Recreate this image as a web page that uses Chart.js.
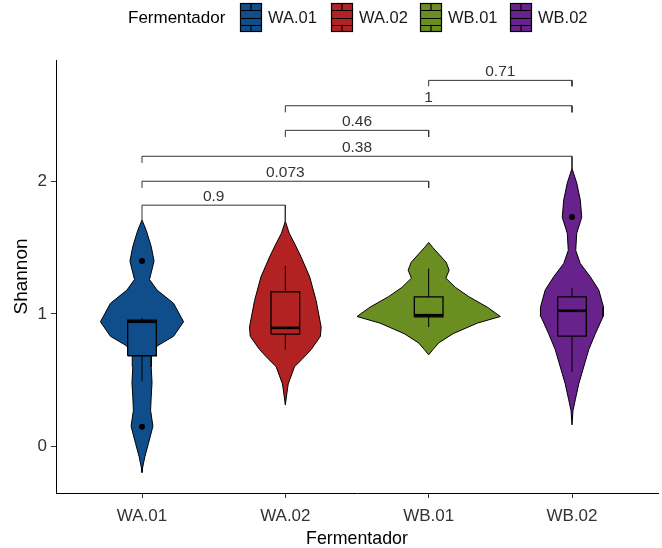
<!DOCTYPE html>
<html>
<head>
<meta charset="utf-8">
<script src="https://cdn.jsdelivr.net/npm/chart.js@4"></script>
<style>
  body { margin: 0; background: #fff; }
</style>
</head>
<body>
<canvas id="chart" width="662" height="548"></canvas>
<script>
const groups = ['WA.01', 'WA.02', 'WB.01', 'WB.02'];
const fillColors = ['#104E8B', '#B22222', '#6B8E23', '#68228B'];

// violin outlines: Shannon level and half width (in category units)
const violinY_WA01 = [1.71, 1.63, 1.51, 1.40, 1.31, 1.26, 1.18, 1.08, 0.94, 0.83, 0.76, 0.70, 0.60, 0.48, 0.37, 0.27, 0.15, 0.02, -0.08, -0.16, -0.20];
const violinW_WA01 = [0, 0.03, 0.064, 0.084, 0.064, 0.052, 0.105, 0.22, 0.29, 0.22, 0.11, 0.068, 0.064, 0.07, 0.064, 0.06, 0.076, 0.045, 0.02, 0.005, 0];
const violinY_WA02 = [1.70, 1.61, 1.52, 1.43, 1.28, 1.10, 0.90, 0.83, 0.73, 0.66, 0.60, 0.47, 0.37, 0.31];
const violinW_WA02 = [0, 0.027, 0.07, 0.11, 0.17, 0.215, 0.25, 0.245, 0.18, 0.12, 0.064, 0.02, 0.007, 0];
const violinY_WB01 = [1.54, 1.50, 1.46, 1.39, 1.33, 1.27, 1.20, 1.13, 1.05, 0.98, 0.93, 0.85, 0.78, 0.73, 0.69];
const violinW_WB01 = [0, 0.03, 0.064, 0.122, 0.143, 0.12, 0.187, 0.28, 0.41, 0.50, 0.34, 0.17, 0.07, 0.03, 0];
const violinY_WB02 = [2.10, 1.99, 1.86, 1.73, 1.61, 1.48, 1.38, 1.28, 1.18, 1.05, 0.98, 0.85, 0.73, 0.60, 0.47, 0.35, 0.27, 0.16];
const violinW_WB02 = [0, 0.033, 0.058, 0.068, 0.033, 0.026, 0.058, 0.128, 0.187, 0.22, 0.217, 0.163, 0.117, 0.082, 0.047, 0.023, 0.007, 0];

const violinY = [violinY_WA01, violinY_WA02, violinY_WB01, violinY_WB02];
const violinW = [violinW_WA01, violinW_WA02, violinW_WB01, violinW_WB02];

// boxplot stats
const lowerWhisker = [0.49, 0.73, 0.90, 0.56];
const q1 = [0.683, 0.847, 0.977, 0.831];
const median = [0.94, 0.894, 0.99, 1.023];
const q3 = [0.952, 1.167, 1.128, 1.128];
const upperWhisker = [0.97, 1.363, 1.343, 1.197];
const outliers = [[1.40, 0.146], [], [], [1.733]];

// significance brackets
const bracketFrom = [1, 1, 1, 2, 2, 3];
const bracketTo = [2, 3, 4, 3, 4, 4];
const bracketY = [1.822, 2.003, 2.192, 2.388, 2.574, 2.766];
const bracketTipL = [0.13, 0.05, 0.05, 0.05, 0.05, 0.045];
const bracketTipR = [0.13, 0.05, 0.10, 0.05, 0.05, 0.045];
const bracketLabels = ['0.9', '0.073', '0.38', '0.46', '1', '0.71'];

const yTicks = [0, 1, 2];
const FONT = "'Liberation Sans', Arial, sans-serif";
const BOX_HALF = 0.1;

const datasets = [];

groups.forEach((g, i) => {
    const cx = i + 1;
    const ys = violinY[i], ws = violinW[i];
    const pts = [];
    for (let k = 0; k < ys.length; k++) pts.push({x: cx + ws[k], y: ys[k]});
    for (let k = ys.length - 1; k >= 0; k--) pts.push({x: cx - ws[k], y: ys[k]});
    datasets.push({
        data: pts, fill: 'shape', backgroundColor: fillColors[i],
        borderColor: '#000', borderWidth: 1, pointRadius: 0, tension: 0, order: 10
    });
    datasets.push({
        data: [{x: cx, y: lowerWhisker[i]}, {x: cx, y: upperWhisker[i]}],
        borderColor: '#000', borderWidth: 1, pointRadius: 0, fill: false, order: 8
    });
    datasets.push({
        data: [
            {x: cx - BOX_HALF, y: q1[i]}, {x: cx + BOX_HALF, y: q1[i]},
            {x: cx + BOX_HALF, y: q3[i]}, {x: cx - BOX_HALF, y: q3[i]},
            {x: cx - BOX_HALF, y: q1[i]}
        ],
        fill: 'shape', backgroundColor: fillColors[i],
        borderColor: '#000', borderWidth: 1.3, pointRadius: 0, order: 6
    });
    datasets.push({
        data: [{x: cx - BOX_HALF, y: median[i]}, {x: cx + BOX_HALF, y: median[i]}],
        borderColor: '#000', borderWidth: 2.6, pointRadius: 0, fill: false, order: 4
    });
    if (outliers[i].length) {
        datasets.push({
            data: outliers[i].map(v => ({x: cx, y: v})),
            showLine: false, pointRadius: 3, pointBackgroundColor: '#000',
            pointBorderColor: '#000', pointBorderWidth: 0, order: 2
        });
    }
});

bracketY.forEach((y, b) => {
    datasets.push({
        data: [
            {x: bracketFrom[b], y: y - bracketTipL[b]}, {x: bracketFrom[b], y: y},
            {x: bracketTo[b], y: y}, {x: bracketTo[b], y: y - bracketTipR[b]}
        ],
        borderColor: '#333', borderWidth: 1, pointRadius: 0, fill: false, tension: 0, order: 1
    });
});

const bracketText = {
    id: 'bracketText',
    afterDatasetsDraw(chart) {
        const ctx = chart.ctx, xs = chart.scales.x, ys = chart.scales.y;
        ctx.save();
        ctx.font = '15.5px ' + FONT;
        ctx.fillStyle = '#333';
        ctx.textAlign = 'center';
        ctx.textBaseline = 'alphabetic';
        bracketLabels.forEach((t, b) => {
            const x = xs.getPixelForValue((bracketFrom[b] + bracketTo[b]) / 2);
            const y = ys.getPixelForValue(bracketY[b]) - 4;
            ctx.fillText(t, x, y);
        });
        ctx.restore();
    }
};

const topLegend = {
    id: 'topLegend',
    afterDraw(chart) {
        const ctx = chart.ctx;
        ctx.save();
        ctx.font = '17px ' + FONT;
        ctx.fillStyle = '#000';
        ctx.textBaseline = 'middle';
        ctx.textAlign = 'left';
        ctx.fillText('Fermentador', 128, 18);
        const keyX = [240, 331, 420, 510];
        const kw = 22, kh = 29, ky = 3;
        groups.forEach((g, i) => {
            const x = keyX[i];
            ctx.fillStyle = fillColors[i];
            ctx.fillRect(x, ky, kw, kh);
            ctx.strokeStyle = '#000';
            ctx.lineWidth = 1.2;
            ctx.strokeRect(x + 0.5, ky + 0.5, kw - 1, kh - 1);
            ctx.beginPath();
            const y1 = ky + kh * 0.25, y2 = ky + kh * 0.5, y3 = ky + kh * 0.75;
            [y1, y2, y3].forEach(yy => {
                ctx.moveTo(x, Math.round(yy) + 0.5);
                ctx.lineTo(x + kw, Math.round(yy) + 0.5);
            });
            ctx.moveTo(x + kw / 2, ky);
            ctx.lineTo(x + kw / 2, y1);
            ctx.moveTo(x + kw / 2, y3);
            ctx.lineTo(x + kw / 2, ky + kh);
            ctx.stroke();
            ctx.fillStyle = '#1a1a1a';
            ctx.font = '16.5px ' + FONT;
            ctx.fillText(g, x + kw + 6, 18);
        });
        ctx.restore();
    }
};

const ctx = document.getElementById('chart').getContext('2d');
new Chart(ctx, {
    type: 'line',
    data: {datasets},
    options: {
        responsive: false,
        animation: false,
        events: [],
        layout: {padding: {top: 60, right: 4, left: 0, bottom: 0}},
        plugins: {legend: {display: false}, tooltip: {enabled: false}},
        scales: {
            x: {
                type: 'linear', min: 0.4, max: 4.6,
                afterBuildTicks: s => { s.ticks = groups.map((g, i) => ({value: i + 1})); },
                afterFit: s => { s.height = 55; },
                ticks: {
                    callback: v => groups[v - 1],
                    color: '#333', font: {size: 17, family: FONT}, padding: 8
                },
                grid: {drawOnChartArea: false, drawTicks: true, tickLength: 5, color: '#333'},
                border: {display: true, color: '#000', width: 1},
                title: {display: true, text: 'Fermentador', color: '#000', font: {size: 17.8, family: FONT}, padding: {top: 0, bottom: -2}}
            },
            y: {
                type: 'linear', min: -0.355, max: 2.92,
                afterBuildTicks: s => { s.ticks = yTicks.map(v => ({value: v})); },
                afterFit: s => { s.width = 56; },
                ticks: {color: '#333', font: {size: 17, family: FONT}, padding: 4},
                grid: {drawOnChartArea: false, drawTicks: true, tickLength: 5, color: '#333'},
                border: {display: true, color: '#000', width: 1},
                title: {display: true, text: 'Shannon', color: '#000', font: {size: 19, family: FONT}, padding: {top: 10, bottom: 0}}
            }
        }
    },
    plugins: [bracketText, topLegend]
});
</script>
</body>
</html>
